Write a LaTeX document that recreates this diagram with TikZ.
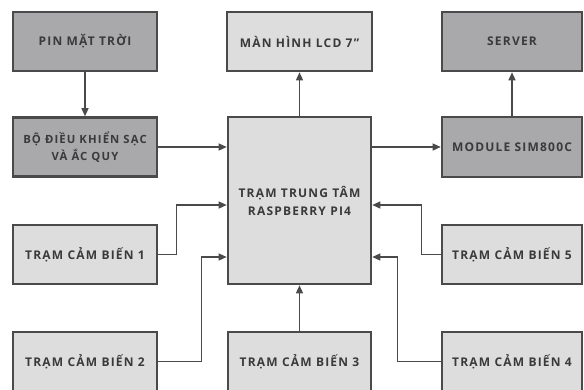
\documentclass[tikz,border=0pt]{standalone}
\usepackage{fontspec}
\setmainfont{Open Sans}[LetterSpace=10]
\usetikzlibrary{arrows.meta}
\definecolor{boxdark}{HTML}{A9A9AB}
\definecolor{boxlight}{HTML}{DDDDDD}
\definecolor{edge}{HTML}{4A4A4A}
\definecolor{txt}{HTML}{3A3A3A}
\tikzset{
  blk/.style={draw=edge, line width=2.6pt, minimum width=144pt, minimum height=59pt,
    inner sep=2pt, align=center, text=txt, font=\bfseries\fontsize{12}{16.5}\selectfont},
  dk/.style={blk, fill=boxdark},
  lt/.style={blk, fill=boxlight},
  con/.style={draw=edge, line width=1.3pt, -{Triangle[length=8pt,width=7pt]}},
}
\begin{document}
\begin{tikzpicture}[x=1pt,y=-1pt]
\clip (0,0) rectangle (584,389);
\fill[white] (0,0) rectangle (584,389);
\node[dk] (pin) at (85,41.5) {PIN MẶT TRỜI};
\node[dk, font=\bfseries\fontsize{11.3}{16.5}\selectfont] (bdk) at (85,147) {BỘ ĐIỀU KHIỂN SẠC\\VÀ ẮC QUY};
\node[lt, minimum width=145pt] (lcd) at (299.5,41.5) {MÀN HÌNH LCD 7"};
\node[lt, minimum width=143pt, minimum height=167pt, font=\bfseries\fontsize{12}{18}\selectfont] (ctr) at (299.5,200.5) {TRẠM TRUNG TÂM\\RASPBERRY PI4};
\node[dk, minimum width=140pt] (srv) at (512,41.5) {SERVER};
\node[dk, minimum width=140pt, minimum height=60pt] (mod) at (512,147) {MODULE SIM800C};
\node[lt] (t1) at (85,254.5) {TRẠM CẢM BIẾN 1};
\node[lt, minimum width=140pt] (t5) at (512,254.5) {TRẠM CẢM BIẾN 5};
\node[lt] (t2) at (85,361.5) {TRẠM CẢM BIẾN 2};
\node[lt, minimum width=143pt] (t3) at (299.5,361.5) {TRẠM CẢM BIẾN 3};
\node[lt, minimum width=140pt] (t4) at (512,361.5) {TRẠM CẢM BIẾN 4};

\draw[con] (pin) -- (bdk);
\draw[con] (bdk.east) -- (bdk.east -| ctr.west);
\draw[con] (ctr) -- (lcd);
\draw[con] (ctr.east |- mod.west) -- (mod.west);
\draw[con] (mod) -- (srv);
\draw[con] (t3) -- (ctr);
\draw[con] (t1.east) -- ++(18,0) |- ([yshift=-4.5pt]ctr.west);
\draw[con] (t2.east) -- ++(43,0) |- ([yshift=-56.5pt]ctr.west);
\draw[con] (t5.west) -- ++(-19,0) |- ([yshift=-4.5pt]ctr.east);
\draw[con] (t4.west) -- ++(-43,0) |- ([yshift=-56.5pt]ctr.east);
\end{tikzpicture}
\end{document}
